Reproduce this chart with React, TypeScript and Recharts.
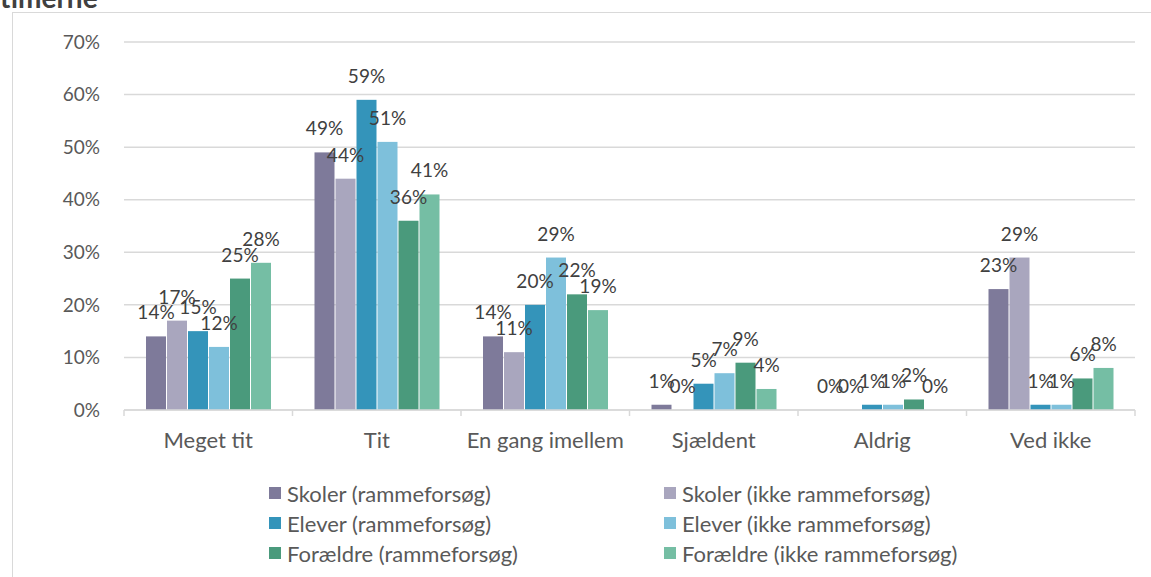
import { Bar, BarChart, CartesianGrid, XAxis, YAxis } from "recharts";

const categories = ["Meget tit", "Tit", "En gang imellem", "Sjældent", "Aldrig", "Ved ikke"];
const skolerRamme = [14, 49, 14, 1, 0, 23];
const skolerIkke = [17, 44, 11, 0, 0, 29];
const eleverRamme = [15, 59, 20, 5, 1, 1];
const eleverIkke = [12, 51, 29, 7, 1, 1];
const foraeldreRamme = [25, 36, 22, 9, 2, 6];
const foraeldreIkke = [28, 41, 19, 4, 0, 8];
const yTicks = [0, 10, 20, 30, 40, 50, 60, 70];

const series = [
  { key: "s1", name: "Skoler (rammeforsøg)", values: skolerRamme, color: "#7E7A9A" },
  { key: "s2", name: "Skoler (ikke rammeforsøg)", values: skolerIkke, color: "#A9A6BE" },
  { key: "s3", name: "Elever (rammeforsøg)", values: eleverRamme, color: "#3494BA" },
  { key: "s4", name: "Elever (ikke rammeforsøg)", values: eleverIkke, color: "#7EC0DB" },
  { key: "s5", name: "Forældre (rammeforsøg)", values: foraeldreRamme, color: "#4A9A7C" },
  { key: "s6", name: "Forældre (ikke rammeforsøg)", values: foraeldreIkke, color: "#75BEA4" },
];

const data = categories.map((name, i) => {
  const row: Record<string, string | number> = { name };
  series.forEach((s) => (row[s.key] = s.values[i]));
  return row;
});

const W = 1151;
const H = 577;
const Y_AXIS_W = 124;
const X_AXIS_H = 60;
const margin = { top: 42, right: 16, left: 0, bottom: 107 };
const band = (W - Y_AXIS_W - margin.right) / categories.length;
const font = "Lato, 'Open Sans', sans-serif";

function CategoryTick(props: any) {
  const { x, y, payload, index } = props;
  const half = band / 2;
  return (
    <g>
      <line x1={x - half} x2={x - half} y1={y} y2={y + 6} stroke="#D9D9D9" strokeWidth={1.5} />
      {index === categories.length - 1 && (
        <line x1={x + half} x2={x + half} y1={y} y2={y + 6} stroke="#D9D9D9" strokeWidth={1.5} />
      )}
      <text x={x} y={y + 30} dy="0.35em" textAnchor="middle" fill="#595959" fontSize={22} fontFamily={font}>
        {payload.value}
      </text>
    </g>
  );
}

function PlainBar(props: any) {
  const { x, y, width, height, fill } = props;
  if (height < 0.5) return null;
  return <rect x={x} y={y} width={width} height={height} fill={fill} />;
}

// value label only, ~25px above the bar top (zero values too)
function BarLabel(props: any) {
  const { x, y, width, value } = props;
  const v = Array.isArray(value) ? value[1] - value[0] : value;
  return (
    <text x={x + width / 2} y={y - 17} textAnchor="middle" fill="#404040" fontSize={19} fontFamily={font}>
      {`${Math.round(v)}%`}
    </text>
  );
}

function Chart({ labels }: { labels: boolean }) {
  return (
    <BarChart width={W} height={H} data={data} margin={margin} barCategoryGap={22} barGap={1}>
      {!labels && <CartesianGrid vertical={false} stroke="#D9D9D9" strokeWidth={1.5} />}
      <XAxis
        dataKey="name"
        height={X_AXIS_H}
        axisLine={labels ? false : { stroke: "#D9D9D9", strokeWidth: 1.5 }}
        tickLine={false}
        tickSize={0}
        tickMargin={0}
        tick={labels ? false : <CategoryTick />}
        interval={0}
      />
      <YAxis
        domain={[0, 70]}
        ticks={yTicks}
        tickFormatter={(v) => `${v}%`}
        axisLine={false}
        tickLine={false}
        tickMargin={18}
        width={Y_AXIS_W}
        tick={labels ? false : { fill: "#595959", fontSize: 19, fontFamily: font }}
      />
      {series.map((s) => (
        <Bar
          key={s.key}
          dataKey={s.key}
          name={s.name}
          fill={s.color}
          minPointSize={0.01}
          shape={labels ? <BarLabel /> : <PlainBar />}
          isAnimationActive={false}
        />
      ))}
    </BarChart>
  );
}

export default function App() {
  return (
    <div style={{ position: "absolute", left: 0, top: 0, width: W, height: H, overflow: "hidden", background: "#fff", fontFamily: font }}>
      <div style={{ position: "absolute", left: 0, top: -17, fontSize: 28, lineHeight: "28px", fontWeight: 700, color: "#404040" }}>
        timerne
      </div>
      <div style={{ position: "absolute", left: 12, top: 12, width: W, height: H, border: "1px solid #D9D9D9", boxSizing: "border-box" }} />
      <div style={{ position: "absolute", left: 0, top: 0 }}>
        <Chart labels={false} />
      </div>
      <div style={{ position: "absolute", left: 0, top: 0 }}>
        <Chart labels={true} />
      </div>
      <div
        style={{
          position: "absolute",
          left: 269,
          top: 478,
          display: "grid",
          gridTemplateColumns: "395px 400px",
          fontSize: 22,
          color: "#595959",
        }}
      >
        {series.map((s) => (
          <div key={s.key} style={{ display: "flex", alignItems: "center", height: 30 }}>
            <span style={{ width: 12, height: 12, background: s.color, marginRight: 6, display: "inline-block" }} />
            <span>{s.name}</span>
          </div>
        ))}
      </div>
    </div>
  );
}
